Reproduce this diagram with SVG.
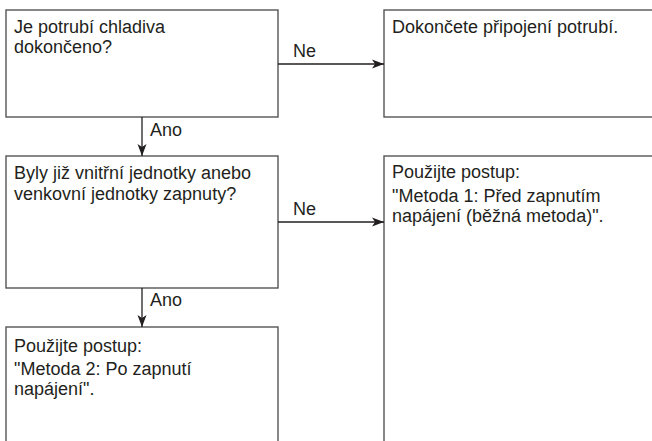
<svg xmlns="http://www.w3.org/2000/svg" width="652" height="441" viewBox="0 0 652 441">
<style>
.box{fill:#fff;stroke:#555;stroke-width:1.4}
.t{font-family:"Liberation Sans",Arial,sans-serif;font-size:18px;fill:#231f20}
.c{stroke:#231f20;stroke-width:1.3;fill:none}
</style>
<defs>
<marker id="ah" viewBox="0 0 12 10" refX="12" refY="5" markerWidth="12" markerHeight="10" markerUnits="userSpaceOnUse" orient="auto">
<path d="M0,0.5 L12,5 L0,9.5 L3,5 Z" fill="#231f20"/>
</marker>
</defs>
<rect width="652" height="441" fill="#fff"/>
<g id="n1">
<rect class="box" x="6" y="10" width="272" height="107"/>
<text class="t" x="14" y="33">Je potrubí chladiva</text>
<text class="t" x="14" y="53">dokončeno?</text>
</g>
<g id="n2">
<rect class="box" x="384" y="10" width="280" height="107"/>
<text class="t" x="392" y="33">Dokončete připojení potrubí.</text>
</g>
<g id="n3">
<rect class="box" x="6" y="156" width="272" height="132"/>
<text class="t" x="14" y="179">Byly již vnitřní jednotky anebo</text>
<text class="t" x="14" y="200">venkovní jednotky zapnuty?</text>
</g>
<g id="n4">
<rect class="box" x="384" y="156" width="280" height="300"/>
<text class="t" x="392" y="178">Použijte postup:</text>
<text class="t" x="392" y="202">"Metoda 1: Před zapnutím</text>
<text class="t" x="392" y="222">napájení (běžná metoda)".</text>
</g>
<g id="n5">
<rect class="box" x="6" y="327" width="272" height="130"/>
<text class="t" x="14" y="352">Použijte postup:</text>
<text class="t" x="14" y="375">"Metoda 2: Po zapnutí</text>
<text class="t" x="14" y="395">napájení".</text>
</g>
<g id="connectors">
<line class="c" x1="278" y1="64" x2="384" y2="64" marker-end="url(#ah)"/>
<text class="t" x="293" y="57">Ne</text>
<line class="c" x1="142" y1="117" x2="142" y2="156" marker-end="url(#ah)"/>
<text class="t" x="150" y="136">Ano</text>
<line class="c" x1="278" y1="222" x2="384" y2="222" marker-end="url(#ah)"/>
<text class="t" x="293" y="215">Ne</text>
<line class="c" x1="142" y1="288" x2="142" y2="327" marker-end="url(#ah)"/>
<text class="t" x="150" y="306">Ano</text>
</g>
</svg>
